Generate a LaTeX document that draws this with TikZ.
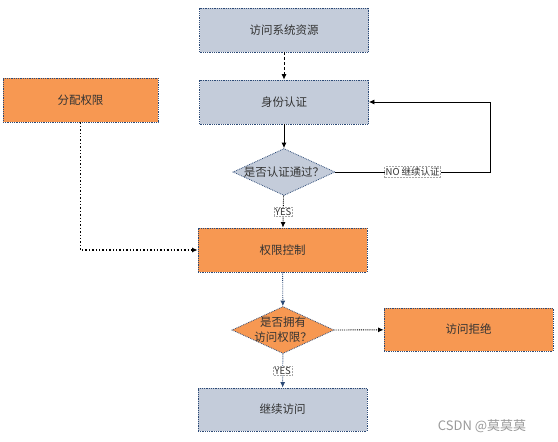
\documentclass[tikz,border=0pt]{standalone}
\usepackage{fontspec}
\newfontfamily\cjk{Noto Sans CJK SC}
\usetikzlibrary{shapes.geometric,arrows.meta}
\definecolor{boxblue}{RGB}{196,204,218}
\definecolor{boxorange}{RGB}{247,152,82}
\definecolor{edgeblue}{RGB}{44,74,118}

\begin{document}
\begin{tikzpicture}[x=1pt,y=-1pt,
	font=\cjk\fontsize{11.5}{15}\selectfont,text=black!80,
	>={Latex[length=5.5pt,width=5pt]},
	box/.style={rectangle,draw=edgeblue,densely dotted,line width=0.8pt,
		minimum width=169pt,minimum height=44pt,inner sep=0pt},
	decision/.style={diamond,draw=edgeblue,densely dotted,line width=0.8pt,
		minimum width=102pt,minimum height=47pt,inner sep=0pt},
	tag/.style={fill=white,draw=black!35,densely dotted,line width=0.5pt,inner sep=1pt,
		font=\cjk\fontsize{9.5}{11}\selectfont}]
		\useasboundingbox (0,0) rectangle (558,442);
		\node[box,fill=boxblue] (access) at (284,30) {访问系统资源};
		\node[box,fill=boxblue] (auth) at (284,102) {身份认证};
		\node[box,fill=boxorange,minimum width=155pt] (assign) at (80.5,100) {分配权限};
		\node[decision,fill=boxblue,label={center:是否认证通过？}] (check) at (284,172) {};
		\node[box,fill=boxorange] (control) at (282.5,250) {权限控制};
		\node[decision,fill=boxorange,
			label={[align=center]center:是否拥有\\访问权限？}] (perm) at (283,330) {};
		\node[box,fill=boxorange,minimum height=43pt] (deny) at (468.5,329.5) {访问拒绝};
		\node[box,fill=boxblue,minimum height=43pt] (cont) at (282.5,409.5) {继续访问};
		\coordinate (back) at (490,172);
		\draw[densely dashed,line width=0.8pt,->] (access) -- (auth);
		\draw[line width=0.8pt,->] (auth) -- (check);
		\draw[line width=0.8pt,->] (check.east) -- node[tag] {NO\ 继续认证} (back) |- (auth.east);
		\draw[densely dotted,line width=0.9pt,->] (check) -- node[tag] {YES} (control);
		\draw[dotted,line width=1.4pt,->] (assign) |- (control.west);
		\draw[densely dotted,line width=0.9pt,edgeblue,->] (control) -- (perm);
		\draw[densely dotted,line width=0.9pt,->] (perm.east) -- (deny);
		\draw[densely dotted,line width=0.9pt,edgeblue,->] (perm) -- node[tag,text=black!80] {YES} (cont);
		\node[text=black!40,font=\cjk\fontsize{13}{15}\selectfont] (mark) at (482,426) {CSDN @莫莫莫};
	\end{tikzpicture}
\end{document}
